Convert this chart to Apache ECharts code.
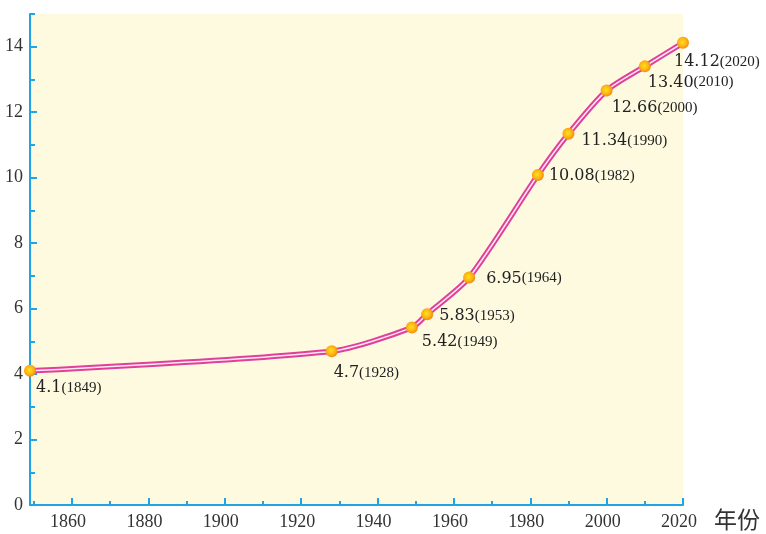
<!DOCTYPE html>
<html>
<head>
<meta charset="utf-8">
<script src="https://cdn.jsdelivr.net/npm/echarts@6/dist/echarts.min.js"></script>
<style>
html,body{margin:0;padding:0;background:#fff;}
#chart{width:766px;height:534px;}
</style>
</head>
<body>
<div id="chart"></div>
<script>
// Data
var years = [1849, 1928, 1949, 1953, 1964, 1982, 1990, 2000, 2010, 2020];
var values = [4.1, 4.7, 5.42, 5.83, 6.95, 10.08, 11.34, 12.66, 13.40, 14.12];
var valueLabels = ['4.1', '4.7', '5.42', '5.83', '6.95', '10.08', '11.34', '12.66', '13.40', '14.12'];
var xMajorTicks = [1860, 1880, 1900, 1920, 1940, 1960, 1980, 2000, 2020];
var xMinorTicks = [1850, 1870, 1890, 1910, 1930, 1950, 1970, 1990, 2010];
var yMajorTicks = [0, 2, 4, 6, 8, 10, 12, 14];
var yMinorTicks = [1, 3, 5, 7, 9, 11, 13, 15];
var xName = '年份';

// Layout (label placement relative to each point)
var labelOffsets = [[6,17],[2,22],[10,14],[12,2],[17,1],[11,1],[13,7],[5,17],[3,16],[-9,19]];

var axisColor = '#1fa5e3';
var chart = echarts.init(document.getElementById('chart'));

var pts = years.map(function(y, i){ return [y, values[i]]; });
var labeledPts = years.map(function(y, i){
  return { value: [y, values[i]], label: { offset: labelOffsets[i] } };
});

var option = {
  animation: false,
  backgroundColor: '#ffffff',
  grid: { left: 30, right: 83, top: 14, bottom: 29, show: true, backgroundColor: '#fefae0', borderWidth: 0 },
  xAxis: [{
    type: 'value', min: 1849, max: 2020,
    name: xName, nameLocation: 'end', nameGap: 31,
    nameTextStyle: { fontFamily: 'Noto Sans CJK SC', fontSize: 23, color: '#333', verticalAlign: 'top', padding: [3,0,0,0] },
    axisLine: { show: true, onZero: false, lineStyle: { color: axisColor, width: 2 } },
    axisTick: { show: true, inside: true, length: 7, customValues: xMajorTicks, lineStyle: { color: axisColor, width: 2 } },
    axisLabel: { customValues: xMajorTicks, formatter: function(v){ return String(v); }, fontFamily: 'Liberation Serif', fontSize: 18, color: '#333', margin: 8, padding: [0,8,0,0] },
    splitLine: { show: false }
  }, {
    type: 'value', min: 1849, max: 2020, position: 'bottom',
    axisLine: { show: false },
    axisTick: { show: true, inside: true, length: 4, customValues: xMinorTicks, lineStyle: { color: axisColor, width: 2 } },
    axisLabel: { show: false },
    splitLine: { show: false }
  }],
  yAxis: [{
    type: 'value', min: 0, max: 15,
    axisLine: { show: true, onZero: false, lineStyle: { color: axisColor, width: 2 } },
    axisTick: { show: true, inside: true, length: 7, customValues: yMajorTicks, lineStyle: { color: axisColor, width: 2 } },
    axisLabel: { customValues: yMajorTicks, fontFamily: 'Liberation Serif', fontSize: 18, color: '#333', margin: 7 },
    splitLine: { show: false }
  }, {
    type: 'value', min: 0, max: 15, position: 'left',
    axisLine: { show: false },
    axisTick: { show: true, inside: true, length: 5, customValues: yMinorTicks, lineStyle: { color: axisColor, width: 2 } },
    axisLabel: { show: false },
    splitLine: { show: false }
  }],
  series: [{
    type: 'line', data: pts, smooth: 0.25,
    showSymbol: false, symbol: 'none',
    lineStyle: { color: '#e0409a', width: 5.5 },
    silent: true, z: 2
  }, {
    type: 'line', data: labeledPts, smooth: 0.25,
    lineStyle: { color: '#fce8f2', width: 1.5 },
    symbol: 'circle', symbolSize: 12, showSymbol: true,
    itemStyle: {
      color: { type: 'radial', x: 0.45, y: 0.45, r: 0.6, colorStops: [
        { offset: 0, color: '#ffe21a' }, { offset: 0.55, color: '#fdb515' }, { offset: 1, color: '#f0820f' }
      ] },
      borderWidth: 0
    },
    label: {
      show: true, position: 'inside', align: 'left', verticalAlign: 'middle',
      formatter: function(p){ return '{n|' + valueLabels[p.dataIndex] + '}{y|(' + years[p.dataIndex] + ')}'; },
      rich: {
        n: { fontFamily: 'DejaVu Serif', fontSize: 16, color: '#222' },
        y: { fontFamily: 'Liberation Serif', fontSize: 15, color: '#222' }
      }
    },
    z: 3
  }]
};
chart.setOption(option);
</script>
</body>
</html>
